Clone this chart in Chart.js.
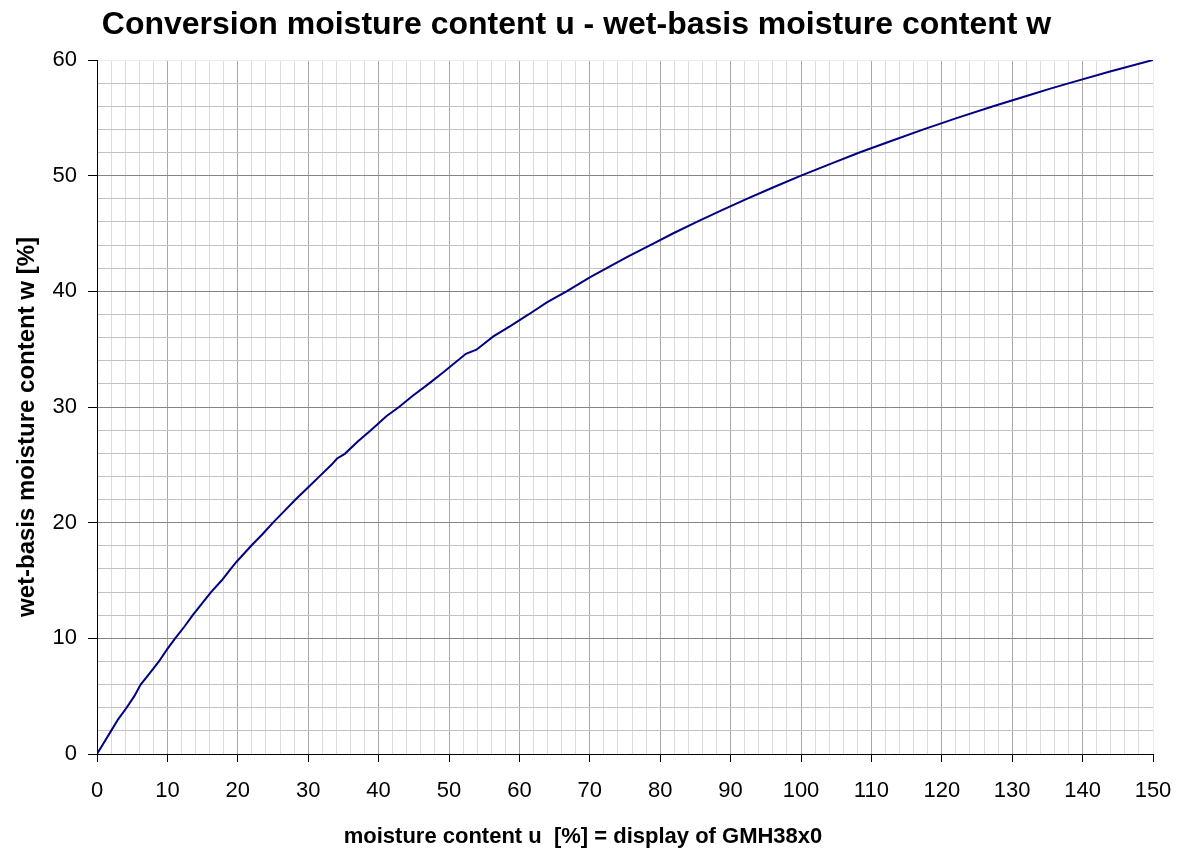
<!DOCTYPE html>
<html>
<head>
<meta charset="utf-8">
<title>Conversion moisture content u - wet-basis moisture content w</title>
<script src="https://cdn.jsdelivr.net/npm/chart.js@4.4.1/dist/chart.umd.min.js"></script>
<style>
    body { margin: 0; background: #ffffff; }
    #wrap { width: 1181px; height: 863px; }
</style>
</head>
<body>
<div id="wrap"><canvas id="conversion-chart" width="1181" height="863"></canvas></div>
<script>
// values
const uValues = [0, 1, 2, 3, 4.2, 5.3, 6.2, 7.5, 8.8, 9.9,
    11.1, 12.4, 13.6, 14.9, 16.2, 17.7, 19, 19.8, 21.9, 23.5,
    25, 26.6, 28.2, 29.9, 31.6, 33.3, 34.1, 35.2, 37, 38.9,
    40, 41.1, 42.9, 44.9, 47.1, 49.2, 52.4, 53.9, 56.3,
    58.7, 61.3, 63.9, 66.7, 70, 72.4, 75.4, 78.6, 81.8, 85.2,
    88.7, 92.3, 96.1, 100, 104.1, 108.3, 112.8, 117.4, 122.2, 127.3,
    132.6, 135.3, 138.1, 143.9, 150];
const wValues = [0, 1, 2, 3, 4, 5, 6, 7, 8, 9,
    10, 11, 12, 13, 14, 15, 16, 16.6, 18, 19,
    20, 21, 22, 23, 24, 25, 25.55, 25.95, 27, 28,
    28.6, 29.2, 30, 31, 32, 33, 34.6, 34.95, 36.1,
    37, 38, 39.05, 40, 41.2, 42, 43, 44, 45, 46,
    47, 48, 49, 50, 51, 52, 53, 54, 55, 56,
    57, 57.5, 58, 59, 60];

const xTickLabels = [0, 10, 20, 30, 40, 50, 60, 70, 80, 90, 100, 110, 120, 130, 140, 150];
const yTickLabels = [0, 10, 20, 30, 40, 50, 60];

const chartTitle = 'Conversion moisture content u - wet-basis moisture content w';
const xTitle = 'moisture content u  [%] = display of GMH38x0';
const yTitle = 'wet-basis moisture content w [%]';

const FONT = "'Liberation Sans', Arial, Helvetica, sans-serif";

// axis titles sit a bit off the plot centre in the original, so draw them here
const axisTitles = {
    id: 'axisTitles',
    afterDraw(chart) {
        const ctx = chart.ctx;
        const area = chart.chartArea;
        ctx.save();
        ctx.fillStyle = '#000000';
        ctx.textAlign = 'center';
        ctx.textBaseline = 'middle';
        ctx.font = 'bold 22px ' + FONT;
        ctx.fillText(xTitle, 583, area.bottom + 83);
        ctx.font = 'bold 24px ' + FONT;
        ctx.translate(27, 427);
        ctx.rotate(-Math.PI / 2);
        ctx.fillText(yTitle, 0, 0);
        ctx.restore();
    }
};

function gridColour(value, max, major, minor) {
    if (value === max) return '#ececec';
    return value % 10 === 0 ? major : minor;
}

const ctx = document.getElementById('conversion-chart');

new Chart(ctx, {
    type: 'line',
    data: {
        datasets: [{
            label: 'w',
            data: uValues.map((u, i) => ({ x: u, y: wValues[i] })),
            borderColor: '#000080',
            borderWidth: 2,
            pointRadius: 0,
            tension: 0,
            fill: false
        }]
    },
    options: {
        responsive: false,
        animation: false,
        layout: {
            padding: { left: 0, right: 28, top: 0, bottom: 0 }
        },
        scales: {
            x: {
                type: 'linear',
                min: 0,
                max: 150,
                afterFit: scale => {
                    scale.height = 109;
                    // keep the plot edge fixed, the last label may overhang
                    scale.paddingLeft = 0;
                    scale.paddingRight = 0;
                },
                border: { color: '#000000', width: 1 },
                grid: {
                    color: c => gridColour(c.tick.value, 150, '#a8a8a8', '#dcdcdc'),
                    tickColor: c => c.tick.value % 10 === 0 ? '#000000' : 'rgba(0,0,0,0)',
                    tickLength: 8,
                    lineWidth: 1
                },
                ticks: {
                    stepSize: 2,
                    autoSkip: false,
                    maxRotation: 0,
                    padding: 16,
                    color: '#000000',
                    font: { family: FONT, size: 22 },
                    callback: v => xTickLabels.includes(v) ? String(v) : ''
                }
            },
            y: {
                type: 'linear',
                min: 0,
                max: 60,
                afterFit: scale => { scale.width = 97; },
                border: { color: '#000000', width: 1 },
                grid: {
                    color: c => gridColour(c.tick.value, 60, '#858585', '#c2c2c2'),
                    tickColor: c => c.tick.value % 10 === 0 ? '#000000' : 'rgba(0,0,0,0)',
                    tickLength: 9,
                    lineWidth: 1
                },
                ticks: {
                    stepSize: 2,
                    autoSkip: false,
                    padding: 11,
                    color: '#000000',
                    font: { family: FONT, size: 22 },
                    callback: v => yTickLabels.includes(v) ? String(v) : ''
                }
            }
        },
        plugins: {
            legend: { display: false },
            tooltip: { enabled: false },
            title: {
                display: true,
                text: chartTitle,
                color: '#000000',
                font: { family: FONT, size: 32, weight: 'bold', lineHeight: 1.2 },
                padding: { top: 6, bottom: 15.6 }
            }
        }
    },
    plugins: [axisTitles]
});
</script>
</body>
</html>
